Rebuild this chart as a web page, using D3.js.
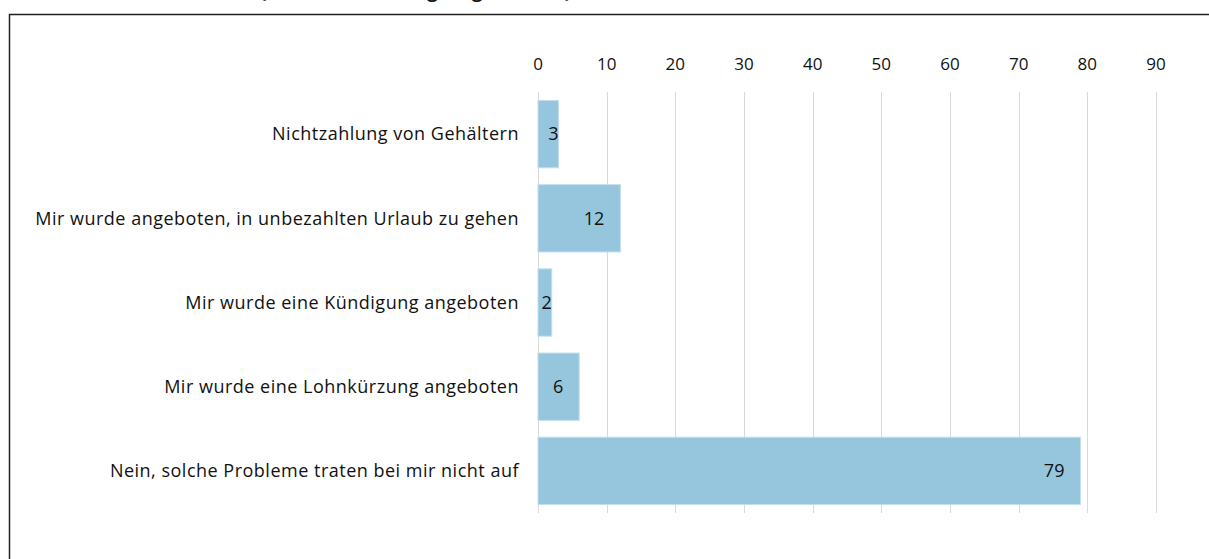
<!DOCTYPE html>
<html lang="de">
<head>
<meta charset="utf-8">
<title>Probleme am Arbeitsplatz</title>
<script src="https://cdn.jsdelivr.net/npm/d3@7"></script>
<style>
  body { margin: 0; background: #fff; }
  svg { display: block; font-family: "Open Sans", "Noto Sans", sans-serif; }
  .grid line { stroke: #d9d9d9; stroke-width: 1px; }
  .tick-label { font-size: 17px; fill: #111; }
  .cat-label { font-size: 18px; fill: #111; letter-spacing: 0.5px; }
  .val-label { font-size: 18px; fill: #111; }
</style>
</head>
<body>
<script>
  const categories = [
    "Nichtzahlung von Gehältern",
    "Mir wurde angeboten, in unbezahlten Urlaub zu gehen",
    "Mir wurde eine Kündigung angeboten",
    "Mir wurde eine Lohnkürzung angeboten",
    "Nein, solche Probleme traten bei mir nicht auf"
  ];
  const values = [3, 12, 2, 6, 79];
  const tickValues = [0, 10, 20, 30, 40, 50, 60, 70, 80, 90];
  const titleText = "Arbeit (Mehrfachnennung möglich, in %)";

  const W = 1209, H = 559;
  const svg = d3.select("body").append("svg")
    .attr("width", W)
    .attr("height", H);

  // caption above the frame, cut off by the top edge like in the source
  svg.append("text")
    .attr("x", 198)
    .attr("y", -2.5)
    .attr("font-size", 18.5)
    .attr("font-weight", "bold")
    .attr("fill", "#111")
    .text(titleText);

  // frame: top and left border only
  svg.append("path")
    .attr("d", `M9.5,${H} V14.5 H${W}`)
    .attr("fill", "none")
    .attr("stroke", "#222")
    .attr("stroke-width", 1.5);

  const x = d3.scaleLinear().domain([0, 90]).range([538, 1156]);
  const y = d3.scaleBand()
    .domain(categories)
    .range([92, 513])
    .paddingInner(0.2)
    .paddingOuter(0.1);

  // vertical gridlines
  svg.append("g").attr("class", "grid")
    .selectAll("line")
    .data(tickValues)
    .join("line")
      .attr("x1", d => Math.round(x(d)) + 0.5)
      .attr("x2", d => Math.round(x(d)) + 0.5)
      .attr("y1", 92)
      .attr("y2", 513);

  // tick labels on top
  svg.append("g")
    .selectAll("text")
    .data(tickValues)
    .join("text")
      .attr("class", "tick-label")
      .attr("x", d => x(d))
      .attr("y", 70)
      .attr("text-anchor", "middle")
      .text(d => d);

  // bars
  svg.append("g")
    .selectAll("rect")
    .data(values)
    .join("rect")
      .attr("x", x(0))
      .attr("y", (d, i) => y(categories[i]))
      .attr("width", d => x(d) - x(0))
      .attr("height", y.bandwidth())
      .attr("fill", "#95c6de")
      .attr("stroke", "#c4dfec")
      .attr("stroke-width", 1);

  // category labels
  svg.append("g")
    .selectAll("text")
    .data(categories)
    .join("text")
      .attr("class", "cat-label")
      .attr("x", 519)
      .attr("y", d => y(d) + y.bandwidth() / 2)
      .attr("dy", "0.35em")
      .attr("text-anchor", "end")
      .text(d => d);

  // value labels, inside end
  svg.append("g")
    .selectAll("text")
    .data(values)
    .join("text")
      .attr("class", "val-label")
      .attr("x", d => (x(d) - x(0) < 30) ? x(d) : x(d) - 16)
      .attr("y", (d, i) => y(categories[i]) + y.bandwidth() / 2)
      .attr("dy", "0.35em")
      .attr("text-anchor", "end")
      .text(d => d);
</script>
</body>
</html>
